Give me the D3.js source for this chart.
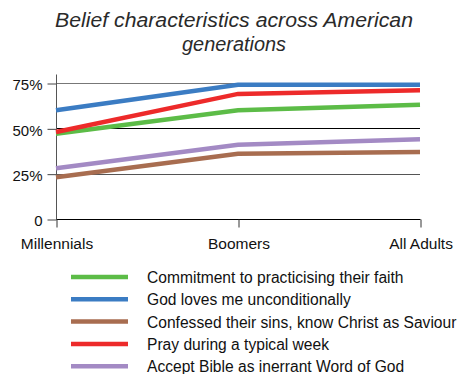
<!DOCTYPE html>
<html><head><meta charset="utf-8">
<script src="https://cdn.jsdelivr.net/npm/d3@7"></script>
<style>body{margin:0;background:#fff}svg{display:block;font-family:"Liberation Sans",Arial,sans-serif}</style>
</head><body><svg id="c" width="459" height="374"></svg>
<script>
const categories = ["Millennials", "Boomers", "All Adults"];
const seriesNames = ["Commitment to practicising their faith", "God loves me unconditionally", "Confessed their sins, know Christ as Saviour", "Pray during a typical week", "Accept Bible as inerrant Word of God"];
const commitment = [47, 60, 63];
const godLoves = [60, 74, 74];
const confessed = [23, 36, 37];
const pray = [48, 69, 71];
const bible = [28, 41, 44];
const colors = ["#5cbc47", "#3b7cc3", "#a86d50", "#ed2a2a", "#a38ac4"];
const yTicks = [0, 25, 50, 75];
const yTickLabels = ["0", "25%", "50%", "75%"];
const titleLines = ["Belief characteristics across American", "generations"];

const series = [commitment, godLoves, confessed, pray, bible];
const svg = d3.select("#c");

const x = d3.scalePoint().domain(categories).range([56, 420]);
const y = d3.scaleLinear().domain([0, 75]).range([219, 83]);

// title
const titleW = [358, 104];
svg.append("g").selectAll("text").data(titleLines).join("text")
  .attr("x", 234).attr("y", (d, i) => 27 + i * 24)
  .attr("text-anchor", "middle").attr("font-style", "italic")
  .attr("font-size", 20).attr("fill", "#2a2a2a")
  .attr("textLength", (d, i) => titleW[i]).attr("lengthAdjust", "spacingAndGlyphs")
  .text(d => d);

// gridlines
const gridColors = {25: "#555", 50: "#000", 75: "#777"};
svg.append("g").selectAll("line").data(yTicks.filter(d => d > 0)).join("line")
  .attr("x1", 56).attr("x2", 420)
  .attr("y1", d => Math.round(y(d)) + 0.5).attr("y2", d => Math.round(y(d)) + 0.5)
  .attr("stroke", d => gridColors[d]).attr("stroke-width", 1);

// y axis
const yAxis = d3.axisLeft(y).tickValues(yTicks).tickFormat((d, i) => yTickLabels[i]).tickSize(9).tickPadding(5);
const gy = svg.append("g").attr("transform", "translate(56.5,0.5)").call(yAxis);
gy.select(".domain").remove();
gy.append("line").attr("x1", 0).attr("x2", 0).attr("y1", 74).attr("y2", 219).attr("stroke", "#555");
gy.selectAll(".tick line").attr("stroke", "#444");
gy.selectAll("text").attr("font-size", 15).attr("dy", "0.42em").attr("fill", "#111").attr("font-family", "Liberation Sans, Arial, sans-serif");

// x axis
const xAxis = d3.axisBottom(x).tickSize(8).tickPadding(10);
const gx = svg.append("g").attr("transform", "translate(0.5,219.5)").call(xAxis);
gx.select(".domain").attr("d", "M56,0H420").attr("stroke", "#000");
gx.selectAll(".tick line").attr("stroke", "#333");
gx.selectAll("text").attr("font-size", 15.5).attr("fill", "#111").attr("font-family", "Liberation Sans, Arial, sans-serif");

// lines
const line = d3.line().x((d, i) => x(categories[i])).y(d => y(d));
svg.append("g").selectAll("path").data(series).join("path")
  .attr("d", line).attr("fill", "none")
  .attr("stroke", (d, i) => colors[i]).attr("stroke-width", 4.5);

// legend
const lg = svg.append("g").selectAll("g").data(seriesNames).join("g")
  .attr("transform", (d, i) => `translate(0,${277 + i * 22.3})`);
lg.append("line").attr("x1", 71).attr("x2", 128).attr("y1", 0).attr("y2", 0)
  .attr("stroke", (d, i) => colors[i]).attr("stroke-width", 4.5);
lg.append("text").attr("x", 147).attr("y", 6).attr("font-size", 15.6).attr("fill", "#111").text(d => d);
</script></body></html>
